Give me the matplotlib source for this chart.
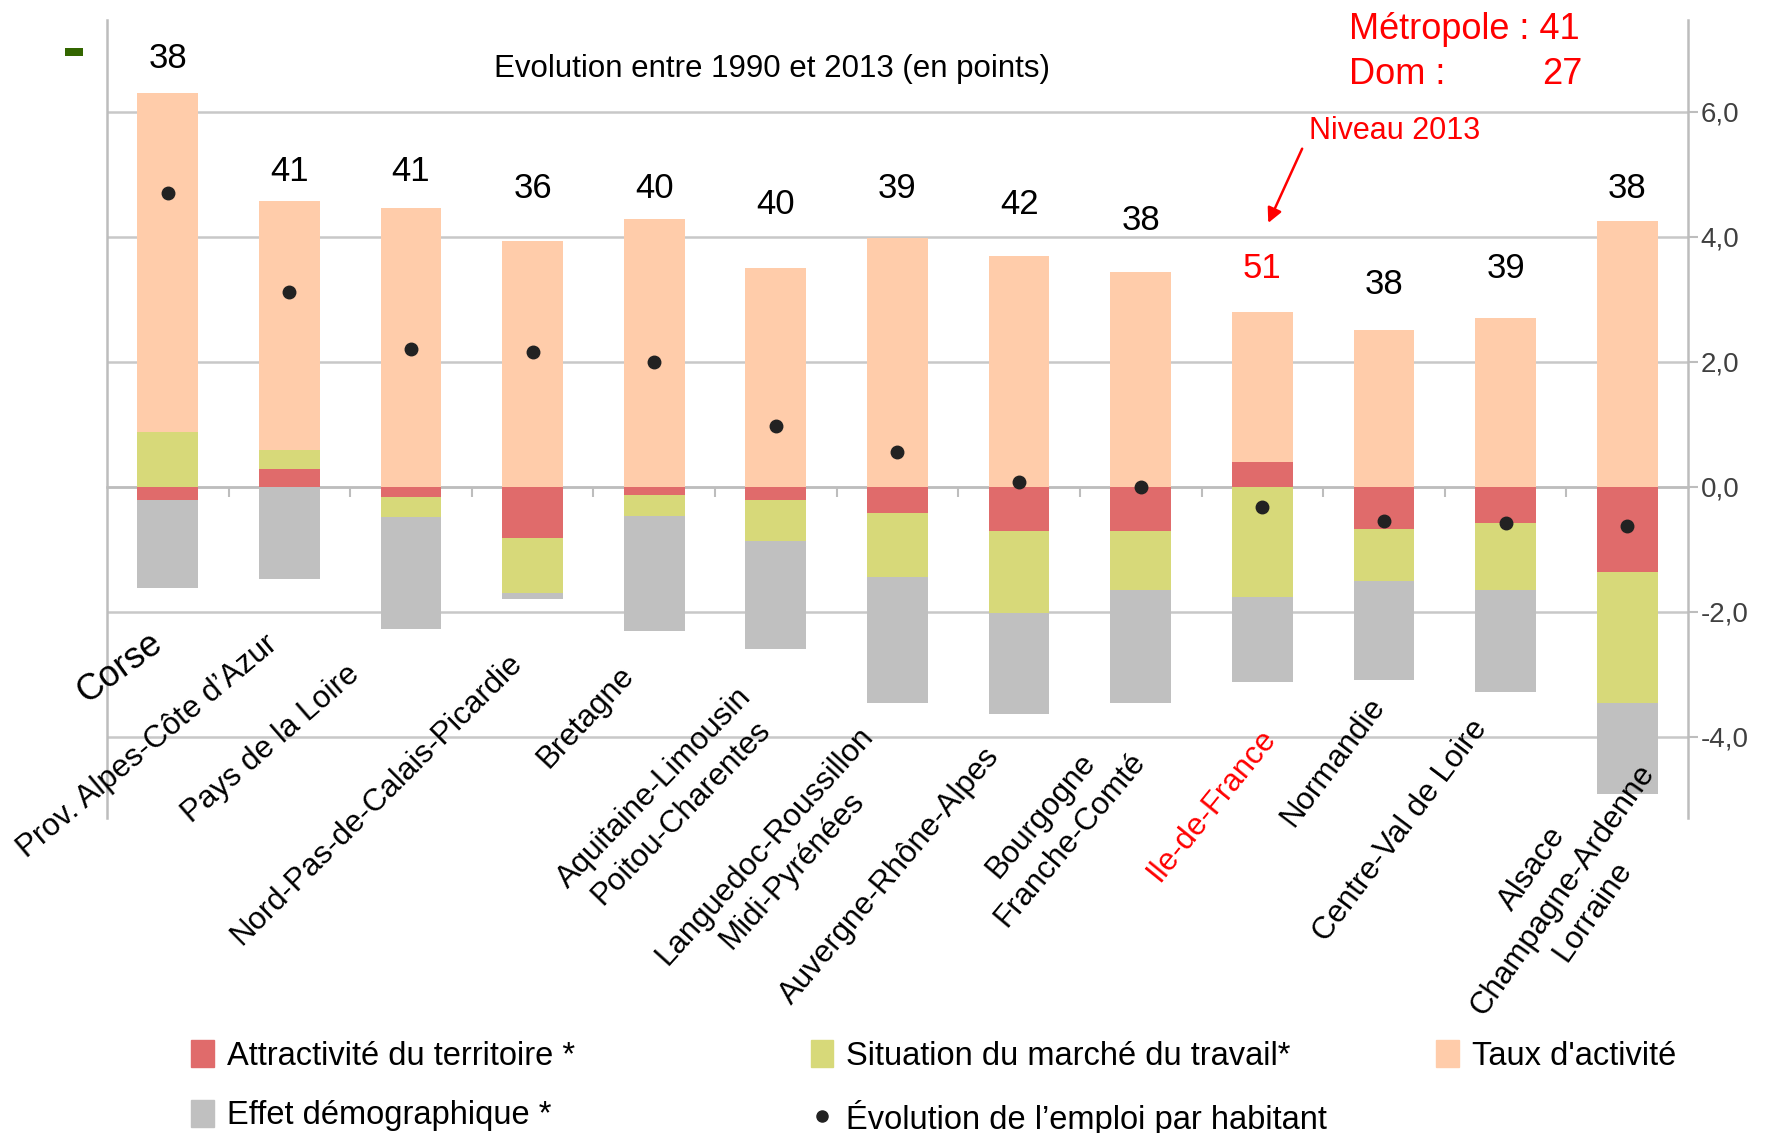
import matplotlib
matplotlib.use("Agg")
import numpy as np
import matplotlib.pyplot as plt
from matplotlib.patches import Patch, Rectangle, FancyArrowPatch
from matplotlib.lines import Line2D
from matplotlib.ticker import FuncFormatter

plt.rcParams['font.family'] = ['Liberation Sans', 'DejaVu Sans']

regions = ["Corse", "Prov. Alpes-Côte d\u2019Azur", "Pays de la Loire",
           "Nord-Pas-de-Calais-Picardie", "Bretagne",
           "Aquitaine-Limousin\nPoitou-Charentes",
           "Languedoc-Roussillon\nMidi-Pyrénées", "Auvergne-Rhône-Alpes",
           "Bourgogne\nFranche-Comté", "Ile-de-France", "Normandie",
           "Centre-Val de Loire", "Alsace\nChampagne-Ardenne\nLorraine"]
niveau_2013 = [38, 41, 41, 36, 40, 40, 39, 42, 38, 51, 38, 39, 38]

attractivite = [-0.21, 0.29, -0.16, -0.82, -0.13, -0.21, -0.42, -0.70, -0.70, 0.40, -0.67, -0.58, -1.36]
marche_travail = [0.88, 0.30, -0.33, -0.88, -0.33, -0.65, -1.02, -1.32, -0.95, -1.76, -0.84, -1.07, -2.10]
taux_activite = [5.43, 3.99, 4.47, 3.93, 4.29, 3.51, 3.98, 3.69, 3.44, 2.40, 2.51, 2.70, 4.26]
effet_demo = [-1.41, -1.47, -1.78, -0.10, -1.84, -1.73, -2.02, -1.62, -1.81, -1.37, -1.58, -1.64, -1.45]
evolution_emploi = [4.71, 3.12, 2.21, 2.15, 2.00, 0.98, 0.55, 0.08, 0.00, -0.32, -0.54, -0.58, -0.62]

y_ticks = [-4, -2, 0, 2, 4, 6]

# layout: height of the "niveau 2013" numbers, and region label placement (x, y, angle)
number_y = [6.85, 5.05, 5.05, 4.77, 4.77, 4.52, 4.77, 4.52, 4.27, 3.50, 3.24, 3.50, 4.77]
label_pos = [(-0.40, -2.90, 36), (-0.17, -4.16, 40), (0.85, -4.11, 41),
             (1.72, -5.01, 45), (3.44, -3.69, 47), (4.11, -5.02, 46),
             (5.02, -5.95, 48), (5.94, -6.22, 50), (7.30, -5.45, 50),
             (8.58, -5.10, 51), (9.58, -4.40, 53), (10.14, -5.51, 53),
             (11.47, -6.45, 55)]

RED = '#E06B6B'
GREEN = '#D7D979'
PEACH = '#FFCCAA'
GREY = '#C0C0C0'
AXIS = '#BDBDBD'

fig = plt.figure(figsize=(17.66, 11.33), dpi=100)
ax = fig.add_axes([0.0606, 0.278, 0.8952, 0.7043])

x = np.arange(len(regions))
series = [(attractivite, RED), (marche_travail, GREEN), (taux_activite, PEACH), (effet_demo, GREY)]
pos_base = np.zeros(len(regions))
neg_base = np.zeros(len(regions))
for vals, col in series:
    v = np.array(vals)
    base = np.where(v >= 0, pos_base, neg_base)
    ax.bar(x, v, bottom=base, width=0.5, color=col, zorder=3, linewidth=0)
    pos_base = pos_base + np.where(v >= 0, v, 0)
    neg_base = neg_base + np.where(v < 0, v, 0)

ax.plot(x, evolution_emploi, 'o', color='#222222', markersize=9, zorder=4)

for i, n in enumerate(niveau_2013):
    ax.text(x[i], number_y[i], str(n), ha='center', va='center', fontsize=25,
            color='red' if regions[i] == "Ile-de-France" else 'black')

for i, name in enumerate(regions):
    lx, ly, ang = label_pos[i]
    ax.text(lx, ly, name, rotation=ang, rotation_mode='anchor', ha='center', va='center',
            multialignment='center', fontsize=26 if name == "Corse" else 22.5,
            color='red' if name == "Ile-de-France" else 'black', clip_on=False,
            linespacing=1.3)

ax.set_xlim(-0.5, len(regions) - 0.5)
ax.set_ylim(-5.30, 7.47)
ax.set_yticks(y_ticks)
ax.yaxis.tick_right()
ax.yaxis.set_major_formatter(FuncFormatter(lambda v, p: f"{v:.1f}".replace('.', ',')))
ax.tick_params(axis='y', labelsize=20, labelcolor='#404040', color=AXIS, length=7, width=1.5, pad=2)
ax.yaxis.grid(True, color='#C8C8C8', linewidth=1.8, zorder=0)
ax.set_axisbelow(True)

ax.set_xticks(np.arange(0.5, len(regions) - 1, 1.0))
ax.set_xticklabels([])
ax.tick_params(axis='x', color=AXIS, length=7, width=1.5, direction='out')
ax.spines['bottom'].set_position(('data', 0))
ax.spines['bottom'].set_color(AXIS)
ax.spines['bottom'].set_linewidth(1.8)
ax.spines['top'].set_visible(False)
for s in ('left', 'right'):
    ax.spines[s].set_color(AXIS)
    ax.spines[s].set_linewidth(1.8)

fig.text(0.437, 0.939, "Evolution entre 1990 et 2013 (en points)", ha='center', va='center', fontsize=22.5)
fig.text(0.764, 0.974, "Métropole : 41", ha='left', va='center', fontsize=26, color='red')
fig.text(0.764, 0.934, "Dom :", ha='left', va='center', fontsize=26, color='red')
fig.text(0.896, 0.934, "27", ha='right', va='center', fontsize=26, color='red')
fig.text(0.7895, 0.884, "Niveau 2013", ha='center', va='center', fontsize=22, color='red')
fig.add_artist(FancyArrowPatch((0.738, 0.871), (0.7175, 0.801), transform=fig.transFigure,
                               arrowstyle='-|>', mutation_scale=22, color='red', linewidth=1.8))
fig.add_artist(Rectangle((0.0368, 0.951), 0.0102, 0.007, transform=fig.transFigure,
                         color='#336600', linewidth=0))

# legend in three columns placed like the original
legend_cols = [
    ([Patch(color=RED), Patch(color=GREY)],
     ["Attractivité du territoire *", "Effet démographique *"], 0.108),
    ([Patch(color=GREEN), Line2D([], [], marker='o', color='#222222', linestyle='none', markersize=8)],
     ["Situation du marché du travail*", "Évolution de l\u2019emploi par habitant"], 0.459),
    ([Patch(color=PEACH)], ["Taux d'activité"], 0.813),
]
for hs, ls, lx in legend_cols:
    fig.legend(hs, ls, loc='upper left', bbox_to_anchor=(lx, 0.082), frameon=False,
               fontsize=23.5, handlelength=0.7, handleheight=0.9, handletextpad=0.4,
               labelspacing=0.85, borderpad=0, borderaxespad=0)

fig.savefig("out.png", dpi=100)
